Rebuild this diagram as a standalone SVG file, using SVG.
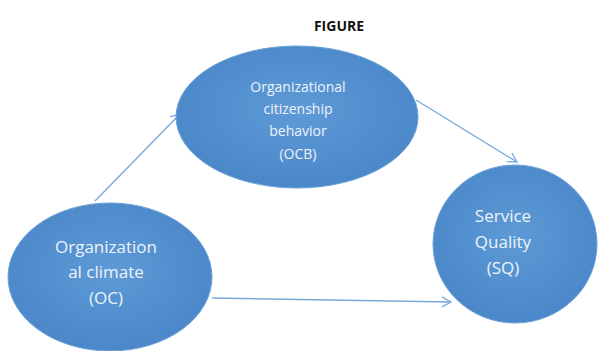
<svg xmlns="http://www.w3.org/2000/svg" width="598" height="351" viewBox="0 0 598 351">
<style>
.node{fill:url(#g);stroke:#6aa3d8;stroke-width:1}
.t{font-family:"Open Sans","Liberation Sans",sans-serif;fill:#eef3fa;text-anchor:middle}
.c{stroke:#79a9db;stroke-width:1.4;fill:none;marker-end:url(#a)}
</style>
<defs>
<radialGradient id="g" cx="0.5" cy="0.45" r="0.6">
<stop offset="0" stop-color="#5d9ad6"/>
<stop offset="1" stop-color="#4a86c8"/>
</radialGradient>
<marker id="a" markerWidth="12" markerHeight="12" refX="10" refY="6" orient="auto" markerUnits="userSpaceOnUse">
<path d="M1,1 L10,6 L1,11" fill="none" stroke="#79a9db" stroke-width="1.3"/>
</marker>
</defs>
<rect width="598" height="351" fill="#ffffff"/>
<text x="339" y="31" font-family="'Open Sans','Liberation Sans',sans-serif" font-weight="bold" font-size="14" fill="#111" text-anchor="middle">FIGURE</text>
<g id="connectors">
<line class="c" x1="95" y1="201" x2="180" y2="114"/>
<line class="c" x1="416" y1="100" x2="517" y2="162"/>
<line class="c" x1="212" y1="298" x2="451" y2="302"/>
</g>
<g id="ocb">
<ellipse class="node" cx="297" cy="117" rx="121" ry="71"/>
<text class="t" font-size="14"><tspan x="298" y="92">Organizational</tspan><tspan x="298" y="114">citizenship</tspan><tspan x="298" y="136">behavior</tspan><tspan x="298" y="159">(OCB)</tspan></text>
</g>
<g id="oc">
<ellipse class="node" cx="110" cy="277" rx="102" ry="74"/>
<text class="t" font-size="17"><tspan x="106" y="253">Organization</tspan><tspan x="106" y="278">al climate</tspan><tspan x="106" y="304">(OC)</tspan></text>
</g>
<g id="sq">
<ellipse class="node" cx="515" cy="244" rx="82" ry="79"/>
<text class="t" font-size="17"><tspan x="503" y="222">Service</tspan><tspan x="503" y="248">Quality</tspan><tspan x="503" y="274">(SQ)</tspan></text>
</g>
</svg>
